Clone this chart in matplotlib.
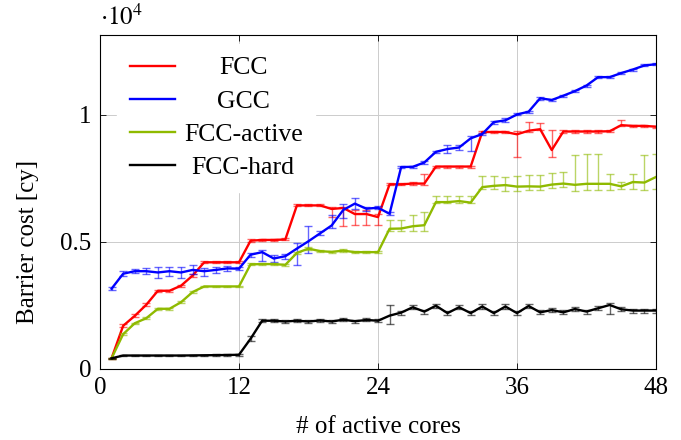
import matplotlib.pyplot as plt
import numpy as np
from matplotlib.ticker import FuncFormatter

plt.rcParams['font.family'] = ['Liberation Serif', 'DejaVu Serif']
plt.rcParams['mathtext.fontset'] = 'stix'

# data, barrier cost in cycles (axis shows it scaled by 10^4)
cores = list(range(1, 49))

fcc = [420, 1700, 2090, 2530, 3080, 3080, 3280, 3680, 4200, 4200,
       4200, 4200, 5050, 5080, 5080, 5100, 6440, 6440, 6440, 6300,
       6340, 6100, 6100, 5980, 7270, 7270, 7300, 7300, 7970, 7970,
       7970, 7970, 9330, 9330, 9330, 9240, 9380, 9440, 8620, 9350,
       9350, 9350, 9350, 9360, 9600, 9570, 9570, 9540]
fcc_lo = [30, 40, 40, 40, 40, 40, 40, 40, 40, 40,
          40, 40, 60, 40, 40, 40, 40, 40, 40, 300,
          700, 430, 430, 330, 40, 40, 40, 40, 40, 40,
          40, 40, 40, 40, 40, 900, 40, 40, 260, 40,
          40, 40, 40, 40, 40, 40, 40, 40]
fcc_hi = [30, 60, 60, 60, 40, 40, 40, 40, 40, 40,
          40, 40, 80, 40, 40, 40, 60, 40, 40, 60,
          40, 150, 150, 120, 40, 40, 60, 380, 40, 40,
          40, 40, 40, 40, 40, 130, 330, 250, 800, 60,
          40, 40, 40, 40, 200, 40, 40, 40]

gcc = [3160, 3750, 3850, 3850, 3800, 3850, 3800, 3900, 3850, 3900,
       3960, 3950, 4500, 4600, 4350, 4440, 4740, 5030, 5340, 5650,
       6260, 6510, 6310, 6350, 6110, 7950, 7960, 8130, 8550, 8660,
       8720, 9080, 9250, 9720, 9790, 10020, 10130, 10660, 10590, 10760,
       10940, 11160, 11490, 11490, 11650, 11790, 11950, 12000]
gcc_lo = [50, 100, 80, 120, 200, 180, 200, 180, 170, 130,
          90, 50, 80, 350, 130, 100, 630, 460, 80, 100,
          300, 225, 80, 60, 60, 40, 40, 40, 40, 145,
          80, 490, 40, 60, 80, 40, 40, 60, 40, 40,
          40, 40, 40, 40, 40, 40, 40, 40]
gcc_hi = [50, 100, 80, 120, 200, 180, 200, 180, 120, 130,
          90, 50, 80, 80, 130, 100, 220, 590, 80, 400,
          250, 210, 80, 60, 60, 40, 40, 40, 40, 145,
          80, 105, 40, 60, 80, 40, 40, 60, 40, 40,
          40, 40, 40, 40, 40, 40, 40, 40]

active = [420, 1370, 1800, 2000, 2370, 2370, 2630, 3030, 3250, 3250,
          3250, 3250, 4120, 4130, 4130, 4100, 4570, 4740, 4640, 4610,
          4660, 4600, 4600, 4600, 5520, 5530, 5620, 5660, 6570, 6570,
          6610, 6550, 7160, 7210, 7240, 7180, 7190, 7180, 7260, 7300,
          7250, 7290, 7290, 7290, 7190, 7360, 7340, 7560]
active_lo = [30, 30, 30, 30, 30, 30, 30, 30, 30, 30,
             30, 30, 40, 40, 40, 40, 40, 60, 40, 40,
             60, 40, 40, 40, 105, 100, 200, 240, 50, 50,
             60, 30, 80, 130, 220, 160, 130, 130, 130, 130,
             225, 250, 250, 225, 90, 290, 290, 460]
active_hi = [30, 30, 30, 30, 30, 30, 30, 30, 30, 30,
             30, 30, 40, 40, 40, 40, 40, 60, 40, 40,
             60, 40, 40, 40, 355, 355, 460, 515, 240, 240,
             200, 260, 420, 400, 330, 420, 460, 450, 460, 460,
             1185, 1160, 1160, 395, 170, 330, 1090, 920]

hard = [420, 530, 530, 530, 530, 530, 530, 535, 540, 545,
        550, 560, 1190, 1900, 1900, 1870, 1900, 1870, 1910, 1870,
        1940, 1880, 1930, 1900, 2100, 2220, 2430, 2260, 2490, 2200,
        2430, 2200, 2460, 2200, 2460, 2200, 2480, 2230, 2320, 2230,
        2360, 2260, 2390, 2520, 2350, 2300, 2300, 2300]
hard_lo = [30, 30, 30, 30, 30, 30, 30, 30, 30, 30,
           30, 30, 100, 60, 60, 60, 60, 60, 60, 60,
           60, 60, 60, 60, 330, 80, 80, 80, 80, 80,
           80, 80, 80, 80, 80, 80, 80, 80, 80, 80,
           80, 80, 80, 355, 80, 80, 80, 80]
hard_hi = [30, 30, 30, 30, 30, 30, 30, 30, 30, 30,
           30, 30, 100, 60, 60, 60, 60, 60, 60, 60,
           60, 60, 60, 60, 400, 80, 80, 80, 80, 80,
           80, 80, 80, 80, 80, 80, 80, 80, 80, 80,
           80, 80, 80, 60, 80, 80, 80, 80]

names = ['FCC', 'GCC', 'FCC-active', 'FCC-hard']
colors = ['#ff0000', '#0000ff', '#8fba00', '#000000']
series = [(fcc, fcc_lo, fcc_hi), (gcc, gcc_lo, gcc_hi),
          (active, active_lo, active_hi), (hard, hard_lo, hard_hi)]

fig, ax = plt.subplots(figsize=(6.81, 4.40), dpi=100)
fig.subplots_adjust(left=0.1468, right=0.9633, bottom=0.1614, top=0.9205)

for (vals, lo, hi), name, col in zip(series, names, colors):
    v = np.array(vals) / 1e4
    err = [np.array(lo) / 1e4, np.array(hi) / 1e4]
    ax.errorbar(cores, v, yerr=err, fmt='none', ecolor=col, alpha=0.6,
                elinewidth=1, capsize=3, capthick=1)
    ax.plot(cores, v, color=col, lw=1.7, label=name)

ax.set_xlim(0, 48)
ax.set_ylim(0, 1.315)
ax.set_xticks([0, 12, 24, 36, 48])
ax.set_yticks([0, 0.5, 1])
ax.yaxis.set_major_formatter(FuncFormatter(lambda v, p: f'{v:g}'))
ax.grid(True, color='#cccccc', lw=0.7)
ax.set_axisbelow(True)
ax.tick_params(direction='in', top=True, right=True, length=4, width=0.6,
               labelsize=18, pad=6)
for s in ax.spines.values():
    s.set_linewidth(0.8)

ax.set_xlabel('# of active cores', fontsize=18, labelpad=12)
ax.set_ylabel('Barrier cost [cy]', fontsize=18)
ax.yaxis.set_label_coords(-0.11, 0.38)
ax.text(0.0, 1.015, r'$\cdot 10^4$', transform=ax.transAxes,
        ha='left', va='bottom', fontsize=18)

leg = ax.legend(loc='upper left', bbox_to_anchor=(0.0306, 0.974),
                borderaxespad=0, fancybox=False, edgecolor='white',
                framealpha=1, fontsize=18.5, handlelength=1.75,
                handletextpad=0.35, labelspacing=0.4, borderpad=0.5)

# center legend texts like pgfplots does
fig.canvas.draw()
r = fig.canvas.get_renderer()
widths = [t.get_window_extent(r).width for t in leg.get_texts()]
wmax = max(widths)
for t, w in zip(leg.get_texts(), widths):
    t.set_x((wmax - w) / 2)

fig.savefig('out.png', dpi=100)
